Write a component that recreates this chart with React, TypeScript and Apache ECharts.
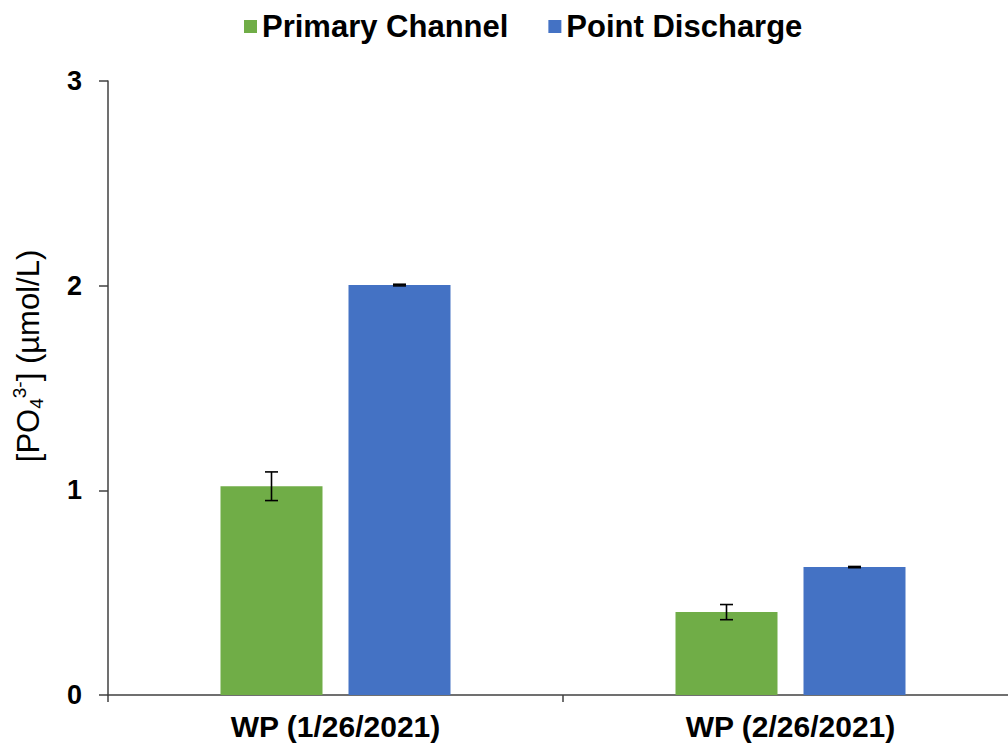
import React, { useEffect, useRef } from 'react';
import * as echarts from 'echarts';

const categories = ['WP (1/26/2021)', 'WP (2/26/2021)'];
const seriesNames = ['Primary Channel', 'Point Discharge'];
const primaryValues = [1.02, 0.405];
const primaryErrors = [0.07, 0.037];
const pointValues = [2.003, 0.625];
const pointErrors = [0.004, 0.003];
const yMin = 0;
const yMax = 3;
const yInterval = 1;

const FONT = '"Liberation Sans", Arial, sans-serif';
const GREEN = '#70AD47';
const BLUE = '#4472C4';
const AXIS = '#404040';
const BAR_W = 102;
const BAR_GAP = 26;

function errorSeries(values: number[], errors: number[], offset: number) {
  return {
    type: 'custom',
    silent: true,
    z: 10,
    encode: { x: 0, y: 1 },
    data: values.map((v, i) => [i, v, errors[i]]),
    renderItem: (_params: any, api: any) => {
      const i = api.value(0);
      const v = api.value(1);
      const e = api.value(2);
      const top = api.coord([i, v + e]);
      const bot = api.coord([i, v - e]);
      const x = top[0] + offset;
      const hw = 6.5;
      const st = { stroke: '#000', lineWidth: 1.6 };
      return {
        type: 'group',
        children: [
          { type: 'line', shape: { x1: x, y1: top[1], x2: x, y2: bot[1] }, style: st },
          { type: 'line', shape: { x1: x - hw, y1: top[1], x2: x + hw, y2: top[1] }, style: st },
          { type: 'line', shape: { x1: x - hw, y1: bot[1], x2: x + hw, y2: bot[1] }, style: st },
        ],
      };
    },
  };
}

export default function App() {
  const ref = useRef<HTMLDivElement>(null);
  useEffect(() => {
    if (!ref.current) return;
    const chart = echarts.init(ref.current, null, { renderer: 'svg' });
    const off = (BAR_W + BAR_GAP) / 2;
    chart.setOption({
      animation: false,
      backgroundColor: '#fff',
      legend: {
        data: seriesNames,
        left: 239,
        top: 6,
        icon: 'rect',
        itemWidth: 13,
        itemHeight: 13,
        itemGap: 40,
        textStyle: { fontFamily: FONT, fontSize: 31, fontWeight: 'bold', color: '#000' },
      },
      grid: { left: 108, top: 81, width: 910, height: 614, outerBoundsMode: 'none', containLabel: false },
      xAxis: {
        type: 'category',
        data: categories,
        axisLine: { show: true, lineStyle: { color: AXIS, width: 1.5 } },
        axisTick: { show: true, length: 7, lineStyle: { color: AXIS, width: 1.5 } },
        axisLabel: { fontFamily: FONT, fontSize: 30, fontWeight: 'bold', color: '#000', margin: 16 },
        splitLine: { show: false },
      },
      yAxis: {
        type: 'value',
        min: yMin,
        max: yMax,
        interval: yInterval,
        axisLine: { show: true, lineStyle: { color: AXIS, width: 1.5 } },
        axisTick: { show: true, length: 9, lineStyle: { color: AXIS, width: 1.5 } },
        axisLabel: { fontFamily: FONT, fontSize: 27, fontWeight: 'bold', color: '#000', margin: 26 },
        splitLine: { show: false },
      },
      graphic: [
        {
          type: 'text',
          x: 28,
          y: 356,
          rotation: Math.PI / 2,
          style: {
            text: '[PO{sub|4}{sup|3-}] (µmol/L)',
            fontFamily: FONT,
            fontSize: 31,
            fill: '#000',
            align: 'center',
            verticalAlign: 'middle',
            rich: {
              sub: { fontFamily: FONT, fontSize: 19, fill: '#000', verticalAlign: 'bottom', lineHeight: 36 },
              sup: { fontFamily: FONT, fontSize: 19, fill: '#000', verticalAlign: 'top', lineHeight: 36 },
            },
          },
        },
      ],
      series: [
        {
          name: seriesNames[0],
          type: 'bar',
          data: primaryValues,
          barWidth: BAR_W,
          barGap: `${(BAR_GAP / BAR_W) * 100}%`,
          itemStyle: { color: GREEN },
        },
        {
          name: seriesNames[1],
          type: 'bar',
          data: pointValues,
          barWidth: BAR_W,
          barGap: `${(BAR_GAP / BAR_W) * 100}%`,
          itemStyle: { color: BLUE },
        },
        errorSeries(primaryValues, primaryErrors, -off),
        errorSeries(pointValues, pointErrors, off),
      ],
    });
    return () => chart.dispose();
  }, []);
  return (
    <div
      ref={ref}
      style={{ position: 'absolute', left: 0, top: 0, width: 1008, height: 750 }}
    />
  );
}
